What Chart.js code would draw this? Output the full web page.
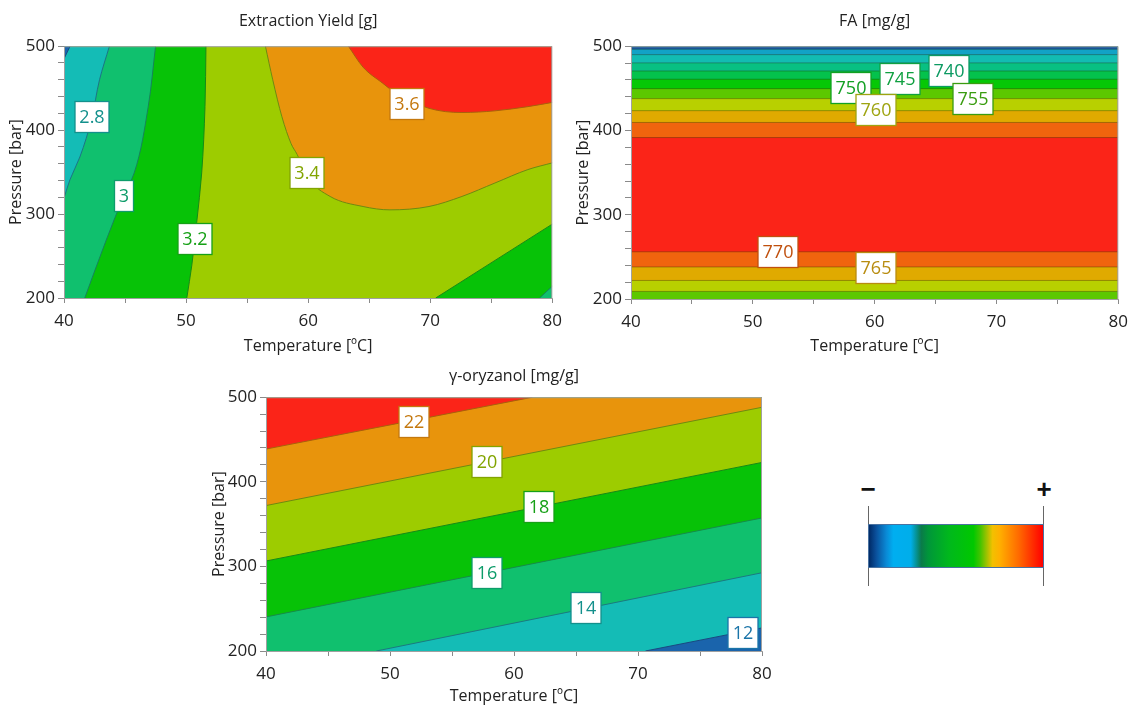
<!DOCTYPE html>
<html>
<head>
<meta charset="utf-8">
<script src="https://cdn.jsdelivr.net/npm/chart.js"></script>
<style>
  body { margin: 0; background: #fff; }
  #wrap { position: relative; width: 1136px; height: 706px; overflow: hidden; font-family: "Liberation Sans", sans-serif; }
  canvas { position: absolute; }
  #c1 { left: 0; top: 0; }
  #c2 { left: 570px; top: 0; }
  #c3 { left: 200px; top: 360px; }
  .scale-bar { position: absolute; left: 868px; top: 524px; width: 176px; height: 44px; box-sizing: border-box;
    border: 1px solid #4a72a0;
    background: linear-gradient(to right, #002a66 0%, #0a4f9a 4%, #0a8ad6 10%, #00aef0 14%, #00aeea 24%, #0a7a4a 30%, #00963a 34%, #00b81c 46%, #00c800 60%, #44c400 64%, #f2c000 71%, #ffb000 75%, #ff6a00 86%, #ff0000 100%); }
  .scale-tick { position: absolute; top: 506px; width: 1px; height: 80px; background: #666; }
  .sign { position: absolute; top: 474px; width: 30px; text-align: center; font-size: 26px; font-weight: bold; color: #111; line-height: 30px; }
</style>
</head>
<body>
<div id="wrap">
  <canvas id="c1" width="570" height="360"></canvas>
  <canvas id="c2" width="566" height="360"></canvas>
  <canvas id="c3" width="580" height="346"></canvas>
  <div class="scale-tick" style="left:868px"></div>
  <div class="scale-tick" style="left:1043px"></div>
  <div class="scale-bar"></div>
  <div class="sign" style="left:853px">−</div>
  <div class="sign" style="left:1029px">+</div>
</div>
<script>
// contour lines as [temperature ºC, pressure bar]

// Extraction Yield [g]
const eyLine26 = [[40, 485], [40.5, 500]];
const eyLine28 = [[40, 319], [40.49, 341], [41.3, 368], [42.24, 412], [42.91, 460], [43.72, 500]];
const eyLine30 = [[41.7, 200], [43.46, 269], [44.94, 323], [45.75, 349], [46.9, 428], [47.5, 500]];
const eyLine32 = [[50.06, 200], [50.47, 239], [50.87, 290], [51.28, 349], [51.55, 428], [51.63, 500]];
const eyLine34 = [[56.5, 500], [57.1, 460], [57.85, 416], [58.6, 384], [59.1, 371], [59.9, 345], [61.8, 321],
                  [64.5, 309], [66.7, 305], [69.9, 309], [72.6, 321], [75.3, 337], [78, 353], [80, 361]];
const eyLine36 = [[63.3, 500], [64.5, 475], [66.1, 456], [67.2, 444], [69.9, 426], [72.6, 421], [75.3, 423], [78, 428], [80, 433]];
const eyLine32b = [[70.45, 200], [80, 288]];
const eyLine30b = [[78.95, 200], [80, 214]];
const eyLabels = ['2.8', '3', '3.2', '3.4', '3.6'];
const eyLabelT = [42.3, 44.9, 50.7, 59.9, 68.1];
const eyLabelP = [416, 321, 270, 349, 431];

// FA [mg/g]: horizontal band edges
const faUpperEdges = [391.6, 409.5, 423.5, 437.8, 449.6, 460.8, 470.6, 480.2, 490, 496.4];
const faLowerEdges = [256, 238, 222, 209];
const faLabels = ['740', '745', '750', '755', '760', '770', '765'];
const faLabelT = [66.1, 62.1, 58.1, 68.1, 60.1, 52.1, 60.1];
const faLabelP = [471, 461, 450.5, 437.8, 424.7, 256, 236.9];

// γ-oryzanol [mg/g]
const orLine12 = [[70.6, 200], [80, 227.3]];
const orLine14 = [[48.9, 200], [80, 292.5]];
const orLine16 = [[40, 240.3], [80, 357.3]];
const orLine18 = [[40, 306.4], [80, 422.9]];
const orLine20 = [[40, 371.9], [80, 488.1]];
const orLine22 = [[40, 438.7], [61.5, 500]];
const orLabels = ['22', '20', '18', '16', '14', '12'];
const orLabelT = [51.9, 57.8, 62.0, 57.8, 65.8, 78.5];
const orLabelP = [470.8, 423.3, 370, 291.7, 251, 221.3];

// colours
const cRed = '#fb2418', cOrange = '#e8940c', cYellowGreen = '#9dcc00', cGreen = '#07c207';
const cTealGreen = '#10c06e', cCyan = '#14bcb6', cBlue = '#1a64ac';
const faUpperColors = ['#f0640e', '#e0aa00', '#b8d000', '#5cc800', '#06c806', '#04c24c', '#08c082', '#12bcb2', '#12a2c6', '#1a5aa2'];
const faLowerColors = ['#f0640e', '#e0aa00', '#b8d000', '#5cc800'];

Chart.defaults.font.family = '"Open Sans", sans-serif';
Chart.defaults.color = '#222';

const pts = arr => arr.map(([x, y]) => ({ x, y }));

function layer(line, color, edge, fill, vertical) {
  return {
    data: pts(line),
    backgroundColor: color,
    borderColor: edge || 'rgba(0,0,0,0)',
    borderWidth: edge ? 1 : 0,
    pointRadius: 0,
    cubicInterpolationMode: 'monotone',
    indexAxis: vertical ? 'y' : 'x',
    fill: fill
  };
}
const toTop = { value: 500 }, toBottom = { value: 200 }, toLeft = { value: 40 };
const whole = [[40, 500], [80, 500]];

const contourLabels = {
  id: 'contourLabels',
  afterDatasetsDraw(chart, args, opts) {
    const { ctx, chartArea: a, scales: { x, y } } = chart;
    ctx.save();
    ctx.strokeStyle = '#a0a0a0';
    ctx.lineWidth = 1;
    ctx.strokeRect(a.left + 0.5, a.top + 0.5, a.right - a.left - 1, a.bottom - a.top);
    ctx.font = '18px "Open Sans", sans-serif';
    ctx.textAlign = 'center';
    ctx.textBaseline = 'middle';
    opts.text.forEach((t, i) => {
      const px = Math.round(x.getPixelForValue(opts.t[i]));
      const py = Math.round(y.getPixelForValue(opts.p[i]));
      const w = Math.round(ctx.measureText(t).width + 9), h = 31;
      ctx.fillStyle = '#fff';
      ctx.fillRect(px - w / 2, py - h / 2, w, h);
      ctx.strokeStyle = opts.colors[i];
      ctx.lineWidth = 1.3;
      ctx.strokeRect(px - w / 2, py - h / 2, w, h);
      ctx.fillStyle = opts.colors[i];
      ctx.fillText(t, px, py + 1);
    });
    ctx.restore();
  }
};

function makeChart(id, title, datasets, labels, geo) {
  return new Chart(document.getElementById(id), {
    type: 'line',
    data: { datasets: datasets.reverse() },
    plugins: [contourLabels],
    options: {
      responsive: false,
      animation: false,
      events: [],
      layout: { padding: { left: 0, right: geo.right, top: 0, bottom: 0 } },
      plugins: {
        legend: { display: false },
        tooltip: { enabled: false },
        title: { display: true, text: title, fullSize: false, color: '#222',
                 font: { size: 16, weight: 'normal' }, padding: { top: geo.titleTop, bottom: geo.titleBottom } },
        contourLabels: labels
      },
      scales: {
        x: {
          type: 'linear', min: 40, max: 80,
          afterFit: s => { s.height = geo.xh; },
          ticks: { stepSize: 5, autoSkip: false, maxRotation: 0, padding: 8, font: { size: 17 },
                   callback: v => v % 10 === 0 ? v : '' },
          grid: { drawOnChartArea: false, tickLength: 5, color: '#8a8a8a' },
          border: { color: '#a0a0a0' },
          title: { display: true, text: 'Temperature [ºC]', font: { size: 16 }, padding: { top: 0, bottom: geo.xTitle } }
        },
        y: {
          type: 'linear', min: 200, max: 500,
          afterFit: s => { s.width = geo.yw; },
          ticks: { stepSize: 20, autoSkip: false, padding: 3, font: { size: 17 },
                   callback: v => v % 100 === 0 ? v : '' },
          grid: { drawOnChartArea: false, tickLength: 6, color: '#8a8a8a' },
          border: { color: '#a0a0a0' },
          title: { display: true, text: 'Pressure [bar]', font: { size: 16 }, padding: { top: geo.yTitle, bottom: 0 } }
        }
      }
    }
  });
}

// Extraction Yield
makeChart('c1', 'Extraction Yield [g]', [
  layer(whole, cYellowGreen, null, toBottom),
  layer(eyLine32, cGreen, '#178a17', toLeft, true),
  layer(eyLine30, cTealGreen, '#16845a', toLeft, true),
  layer(eyLine28, cCyan, '#1d7486', toLeft, true),
  layer(eyLine26, cBlue, '#1a4a80', toLeft, true),
  layer(eyLine34, cOrange, '#6f8a10', toTop),
  layer(eyLine36, cRed, '#a8600c', toTop),
  layer(eyLine32b, cGreen, '#178a17', toBottom),
  layer(eyLine30b, cTealGreen, '#16845a', toBottom)
], {
  text: eyLabels, t: eyLabelT, p: eyLabelP,
  colors: ['#13908c', '#0e9c6a', '#16a016', '#82a400', '#c4780e']
}, { right: 12, yw: 64, xh: 62, titleTop: 12, titleBottom: 15, xTitle: 4, yTitle: 7 });

// FA
makeChart('c2', 'FA [mg/g]', [
  layer(whole, cRed, null, toBottom),
  ...faUpperEdges.map((p, i) => layer([[40, p], [80, p]], faUpperColors[i], 'rgba(40,40,0,0.35)', toTop)),
  ...faLowerEdges.map((p, i) => layer([[40, p], [80, p]], faLowerColors[i], 'rgba(40,40,0,0.35)', toBottom))
], {
  text: faLabels, t: faLabelT, p: faLabelP,
  colors: ['#0c9a62', '#10a040', '#12a022', '#3a9c10', '#9ea410', '#c0500e', '#b88c10']
}, { right: 11, yw: 61, xh: 61, titleTop: 12, titleBottom: 15, xTitle: 4, yTitle: 4 });

// γ-oryzanol
makeChart('c3', 'γ-oryzanol [mg/g]', [
  layer(whole, cTealGreen, null, toBottom),
  layer(orLine14, cCyan, '#1b7a80', toBottom),
  layer(orLine12, cBlue, '#1a4a80', toBottom),
  layer(orLine16, cGreen, '#178a4a', toTop),
  layer(orLine18, cYellowGreen, '#178a17', toTop),
  layer(orLine20, cOrange, '#6f8a10', toTop),
  layer(orLine22, cRed, '#a8600c', toTop)
], {
  text: orLabels, t: orLabelT, p: orLabelP,
  colors: ['#c4780e', '#82a400', '#16a016', '#0e9c6a', '#13908c', '#1a74a8']
}, { right: 18, yw: 66, xh: 55, titleTop: 7, titleBottom: 11, xTitle: 0, yTitle: 10 });
</script>
</body>
</html>
